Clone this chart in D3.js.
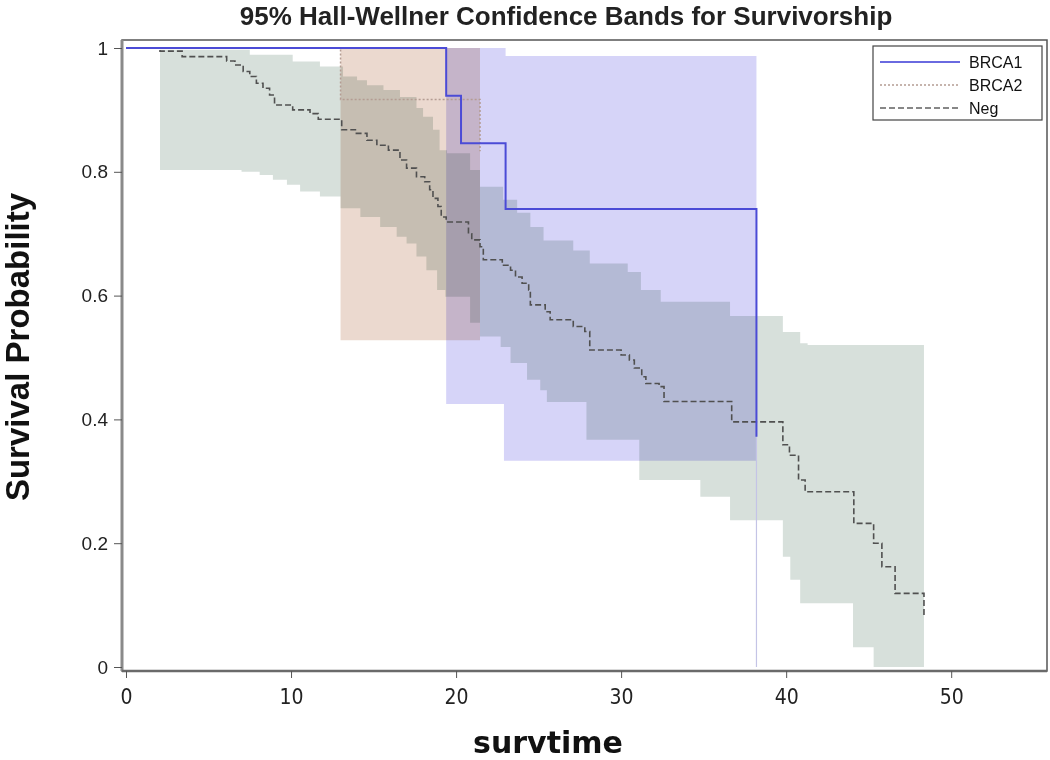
<!DOCTYPE html>
<html>
<head>
<meta charset="utf-8">
<script src="https://cdn.jsdelivr.net/npm/d3@7"></script>
<style>
  body { margin: 0; background: #fff; }
  svg { display: block; font-family: "Liberation Sans", Arial, sans-serif; }
</style>
</head>
<body>
<div id="chart"></div>
<script>
// Kaplan-Meier estimates
const brca1Time = [0, 19.4, 20.3, 23.0, 38.2]
const brca1Surv = [1, 0.923, 0.846, 0.740, 0.372]

const brca2Time = [0, 13.0, 21.45]
const brca2Surv = [1, 0.917, 0.833]

const negTime = [0, 2.06, 3.4, 6.1, 6.6, 7.1, 7.5, 7.9, 8.3, 8.7, 9.0, 10.1, 11.15, 11.65, 13.07,
  13.9, 14.6, 15.2, 15.9, 16.6, 17.0, 17.6, 18.1, 18.4, 18.6, 18.9, 19.1, 19.4, 20.75, 20.95,
  21.45, 21.65, 22.8, 23.3, 23.6, 24.0, 24.4, 24.5, 25.4, 25.7, 27.1, 27.8, 28.1, 30.0, 30.5,
  30.8, 31.25, 31.5, 32.3, 32.6, 36.7, 39.8, 40.2, 40.75, 41.15, 44.1, 45.3, 45.8, 46.6, 48.35]
const negSurv = [1, 0.995, 0.986, 0.979, 0.9725, 0.962, 0.954, 0.943, 0.935, 0.924, 0.908, 0.900, 0.894, 0.885, 0.868,
  0.862, 0.851, 0.843, 0.835, 0.819, 0.806, 0.792, 0.784, 0.771, 0.757, 0.744, 0.727, 0.719, 0.700, 0.690,
  0.679, 0.658, 0.649, 0.641, 0.630, 0.620, 0.609, 0.585, 0.574, 0.561, 0.550, 0.542, 0.512, 0.504, 0.496,
  0.483, 0.469, 0.458, 0.453, 0.429, 0.396, 0.359, 0.342, 0.302, 0.283, 0.232, 0.200, 0.162, 0.119, 0.081]

// Hall-Wellner bands: step functions, last time = end of band
const brca1UpTime = [19.4, 23.0, 38.2]
const brca1Up = [1, 0.987, 0.987]
const brca1LoTime = [19.4, 22.9, 38.2]
const brca1Lo = [0.425, 0.333, 0.333]

const brca2UpTime = [13.0, 21.45]
const brca2Up = [1, 1]
const brca2LoTime = [13.0, 21.45]
const brca2Lo = [0.528, 0.528]

const negUpTime = [2.06, 7.5, 10.1, 11.75, 13.15, 14.0, 14.6, 15.6, 16.6, 17.6, 18.0, 18.6, 19.0, 19.45,
  20.85, 21.45, 22.85, 23.7, 24.5, 25.3, 27.1, 28.1, 30.4, 31.2, 32.4, 36.6, 39.8, 40.85, 41.3, 48.35]
const negUp = [0.997, 0.989, 0.978, 0.970, 0.954, 0.948, 0.940, 0.932, 0.921, 0.903, 0.889, 0.868, 0.835, 0.830,
  0.803, 0.776, 0.755, 0.734, 0.711, 0.689, 0.673, 0.652, 0.638, 0.609, 0.590, 0.567, 0.541, 0.523, 0.520, 0.520]
const negLoTime = [2.06, 7.0, 8.1, 8.9, 9.75, 10.55, 11.75, 13.0, 14.2, 15.4, 16.4, 17.0, 17.6, 18.2, 18.85,
  19.35, 20.85, 21.45, 22.7, 23.3, 24.3, 25.1, 25.5, 27.9, 31.1, 34.8, 36.6, 39.8, 40.25, 40.85, 44.05, 45.3, 48.35]
const negLo = [0.803, 0.800, 0.795, 0.787, 0.779, 0.768, 0.760, 0.741, 0.727, 0.711, 0.695, 0.684, 0.663, 0.641, 0.609,
  0.598, 0.556, 0.534, 0.517, 0.491, 0.464, 0.447, 0.428, 0.367, 0.302, 0.275, 0.237, 0.178, 0.141, 0.103, 0.032, 0, 0]

const xTicks = [0, 10, 20, 30, 40, 50]
const yTicks = [0, 0.2, 0.4, 0.6, 0.8, 1]
const groups = ['BRCA1', 'BRCA2', 'Neg']

const W = 1050, H = 760
const box = {left: 122, right: 1047, top: 40, bottom: 671}

const x = d3.scaleLinear().domain([0, 50]).range([126, 951.2])
const y = d3.scaleLinear().domain([0, 1]).range([667, 48])

const svg = d3.select('#chart').append('svg')
  .attr('width', W).attr('height', H)

let zip = (ts, vs) => ts.map((t, i) => [t, vs[i]])

// polygon from two step functions
let bandPath = function (upT, up, loT, lo) {
  let pts = []
  upT.forEach((t, i) => {
    if (i > 0) pts.push([t, up[i - 1]])
    pts.push([t, up[i]])
  })
  let low = []
  loT.forEach((t, i) => {
    if (i > 0) low.push([t, lo[i - 1]])
    low.push([t, lo[i]])
  })
  pts = pts.concat(low.reverse())
  return d3.line().x(d => x(d[0])).y(d => y(d[1]))(pts) + 'Z'
}

const stepLine = d3.line().x(d => x(d[0])).y(d => y(d[1])).curve(d3.curveStepAfter)

// bands
const bands = svg.append('g').style('isolation', 'isolate')
bands.append('path')
  .attr('d', bandPath(negUpTime, negUp, negLoTime, negLo))
  .attr('fill', '#d7e0db')
  .style('mix-blend-mode', 'multiply')
bands.append('path')
  .attr('d', bandPath(brca2UpTime, brca2Up, brca2LoTime, brca2Lo))
  .attr('fill', '#ebd9cf')
  .style('mix-blend-mode', 'multiply')
bands.append('path')
  .attr('d', bandPath(brca1UpTime, brca1Up, brca1LoTime, brca1Lo))
  .attr('fill', '#d6d4f8')
  .style('mix-blend-mode', 'multiply')

// faint drop of BRCA1 to the axis
svg.append('line')
  .attr('x1', x(brca1Time[brca1Time.length - 1])).attr('x2', x(brca1Time[brca1Time.length - 1]))
  .attr('y1', y(brca1Surv[brca1Surv.length - 1])).attr('y2', y(0))
  .attr('stroke', '#c4c4e6').attr('stroke-width', 1.2)

// curves
svg.append('path')
  .attr('d', stepLine(zip(negTime, negSurv)))
  .attr('fill', 'none').attr('stroke', '#505050')
  .attr('stroke-width', 1.6).attr('stroke-dasharray', '6,3')
svg.append('path')
  .attr('d', stepLine(zip(brca2Time, brca2Surv)))
  .attr('fill', 'none').attr('stroke', '#b49c92')
  .attr('stroke-width', 1.5).attr('stroke-dasharray', '2,2')
svg.append('path')
  .attr('d', stepLine(zip(brca1Time, brca1Surv)))
  .attr('fill', 'none').attr('stroke', '#4b4bd6')
  .attr('stroke-width', 2)

// frame
svg.append('rect')
  .attr('x', box.left).attr('y', box.top)
  .attr('width', box.right - box.left).attr('height', box.bottom - box.top)
  .attr('fill', 'none').attr('stroke', '#555').attr('stroke-width', 1.5)
svg.append('line')
  .attr('x1', box.left).attr('x2', box.left).attr('y1', box.top).attr('y2', box.bottom)
  .attr('stroke', '#8a8a8a').attr('stroke-width', 3)
svg.append('line')
  .attr('x1', box.left).attr('x2', box.right).attr('y1', box.bottom).attr('y2', box.bottom)
  .attr('stroke', '#6a6a6a').attr('stroke-width', 2.5)

// axes
const yAxis = svg.append('g')
  .attr('transform', `translate(${box.left},0)`)
  .call(d3.axisLeft(y).tickValues(yTicks).tickSize(8).tickPadding(6)
    .tickFormat(d => d === 0 || d === 1 ? String(d) : d.toFixed(1)))
yAxis.select('.domain').remove()
yAxis.selectAll('line').attr('stroke', '#555')
yAxis.selectAll('text').attr('font-size', 19).attr('fill', '#222')
  .attr('font-family', '"Liberation Sans", Arial, sans-serif')

const xAxis = svg.append('g')
  .attr('transform', `translate(0,${box.bottom})`)
  .call(d3.axisBottom(x).tickValues(xTicks).tickSize(7).tickPadding(11))
xAxis.select('.domain').remove()
xAxis.selectAll('line').attr('stroke', '#555')
xAxis.selectAll('text').attr('font-size', 21).attr('fill', '#222')
  .attr('font-family', '"DejaVu Sans Condensed", "DejaVu Sans", sans-serif')

// titles
svg.append('text')
  .attr('x', 566).attr('y', 25)
  .attr('text-anchor', 'middle')
  .attr('font-size', 26).attr('font-weight', 'bold').attr('fill', '#222')
  .text('95% Hall-Wellner Confidence Bands for Survivorship')
svg.append('text')
  .attr('x', 548).attr('y', 753)
  .attr('text-anchor', 'middle')
  .attr('font-family', '"DejaVu Sans", sans-serif')
  .attr('font-size', 30).attr('font-weight', 'bold').attr('fill', '#111')
  .text('survtime')
svg.append('text')
  .attr('transform', 'translate(29,347) rotate(-90)')
  .attr('text-anchor', 'middle')
  .attr('font-size', 33).attr('font-weight', 'bold').attr('fill', '#111')
  .text('Survival Probability')

// legend
const lg = svg.append('g').attr('transform', 'translate(873,46)')
lg.append('rect').attr('width', 169).attr('height', 74)
  .attr('fill', '#fff').attr('stroke', '#444').attr('stroke-width', 1.2)
const legStyles = [
  {stroke: '#6a6ae0', dash: null, w: 2},
  {stroke: '#b49c92', dash: '2,2', w: 1.5},
  {stroke: '#606060', dash: '6,3', w: 1.5}
]
groups.forEach((g, i) => {
  let row = lg.append('g').attr('transform', `translate(0,${16 + i * 23})`)
  row.append('line').attr('x1', 7).attr('x2', 87)
    .attr('stroke', legStyles[i].stroke).attr('stroke-width', legStyles[i].w)
    .attr('stroke-dasharray', legStyles[i].dash)
  row.append('text').attr('x', 96).attr('dy', '0.35em')
    .attr('font-size', 16).attr('fill', '#111').text(g)
})
</script>
</body>
</html>
